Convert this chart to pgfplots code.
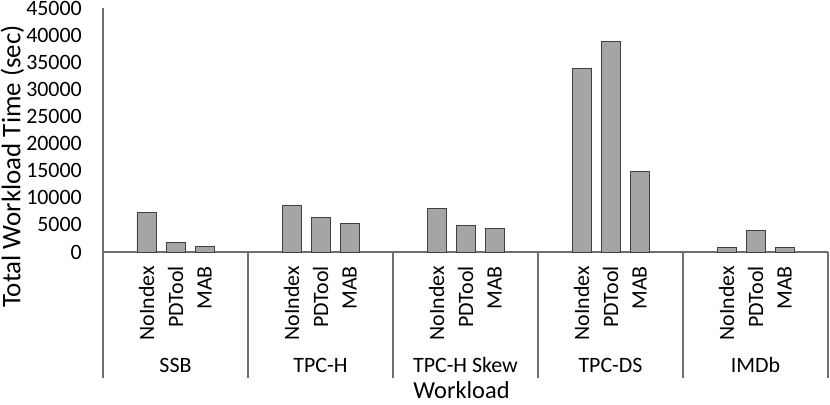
\documentclass[border=0pt]{standalone}
\usepackage{pgfplots}
\pgfplotsset{compat=1.18}
\usepackage{fontspec}
\setmainfont{Carlito}
\definecolor{barfill}{HTML}{A5A5A5}
\definecolor{baredge}{HTML}{404040}
\definecolor{axcol}{HTML}{6E6E6E}
\begin{document}
\begin{tikzpicture}
\begin{axis}[
  scale only axis,
  width=725bp, height=244bp,
  xmin=0, xmax=25, ymin=0, ymax=45000,
  axis lines=left,
  axis line style={-, draw=axcol, line width=1.2bp},
  major tick length=0pt,
  ytick={0,5000,10000,15000,20000,25000,30000,35000,40000,45000},
  yticklabel style={font=\fontsize{22}{26}\selectfont, anchor=east, inner sep=0pt, xshift=-21bp},
  /pgf/number format/assume math mode=true,
  /pgf/number format/fixed,
  /pgf/number format/1000 sep={},
  scaled y ticks=false,
  xtick={1.5,2.5,3.5,6.5,7.5,8.5,11.5,12.5,13.5,16.5,17.5,18.5,21.5,22.5,23.5},
  xticklabels={NoIndex,PDTool,MAB,NoIndex,PDTool,MAB,NoIndex,PDTool,MAB,NoIndex,PDTool,MAB,NoIndex,PDTool,MAB},
  xticklabel style={font=\fontsize{22}{26}\selectfont, rotate=90, anchor=east, inner sep=0pt},
  xticklabel shift=14bp,
  ybar, bar width=19bp,
  clip=false,
]
\addplot[fill=barfill, draw=baredge, line width=0.8bp] coordinates {
  (1.5,7300) (2.5,1800) (3.5,1100)
  (6.5,8600) (7.5,6300) (8.5,5250)
  (11.5,7950) (12.5,4950) (13.5,4400)
  (16.5,33800) (17.5,38750) (18.5,14900)
  (21.5,850) (22.5,3950) (23.5,850)
};
\coordinate (O) at (axis cs:0,0);
\draw[axcol, line width=1.2bp] (axis cs:0,0) -- ++(0,-126bp);
\draw[axcol, line width=1.2bp] (axis cs:5,0) -- ++(0,-126bp);
\draw[axcol, line width=1.2bp] (axis cs:10,0) -- ++(0,-126bp);
\draw[axcol, line width=1.2bp] (axis cs:15,0) -- ++(0,-126bp);
\draw[axcol, line width=1.2bp] (axis cs:20,0) -- ++(0,-126bp);
\draw[axcol, line width=1.2bp] (axis cs:25,0) -- ++(0,-126bp);
\node[font=\fontsize{22}{26}\selectfont, anchor=base] at ([yshift=-120bp]axis cs:2.5,0) {SSB};
\node[font=\fontsize{22}{26}\selectfont, anchor=base] at ([yshift=-120bp]axis cs:7.5,0) {TPC-H};
\node[font=\fontsize{22}{26}\selectfont, anchor=base] at ([yshift=-120bp]axis cs:12.5,0) {TPC-H Skew};
\node[font=\fontsize{22}{26}\selectfont, anchor=base] at ([yshift=-120bp]axis cs:17.5,0) {TPC-DS};
\node[font=\fontsize{22}{26}\selectfont, anchor=base] at ([yshift=-120bp]axis cs:22.5,0) {IMDb};
\end{axis}
\node[font=\fontsize{24.5}{30}\selectfont, anchor=base, inner sep=0pt] at ([shift={(358.5bp,-146bp)}]O) {Workload};
\node[font=\fontsize{27}{32}\selectfont, rotate=90, inner sep=0pt] at ([shift={(-90.5bp,85.5bp)}]O) {Total Workload Time (sec)};
\pgfresetboundingbox
\useasboundingbox ([shift={(-103bp,-153bp)}]O) rectangle ([shift={(727bp,252bp)}]O);
\end{tikzpicture}
\end{document}
